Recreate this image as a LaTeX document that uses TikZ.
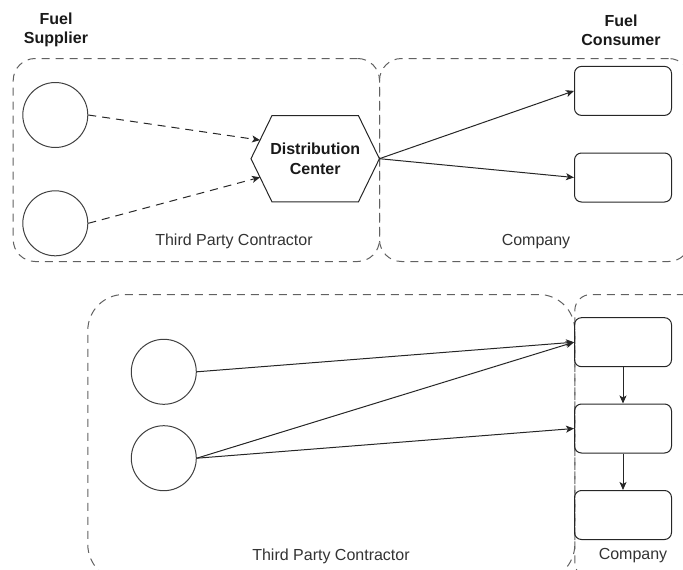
\documentclass[tikz,border=0pt]{standalone}
\usepackage{fontspec}
\setmainfont{Liberation Sans}
\usetikzlibrary{arrows.meta,calc}

\begin{document}
\begin{tikzpicture}[x=1pt,y=-1pt,
  container/.style={draw=black!62, line width=1pt, dash pattern=on 8pt off 6pt,
    inner sep=0pt, anchor=north west},
  station/.style={circle, draw=black!75, line width=1pt, minimum size=65pt, inner sep=0pt},
  consumer/.style={draw=black!85, line width=1pt, rounded corners=7pt,
    minimum width=97pt, minimum height=49pt, inner sep=0pt},
  lbl/.style={text=black!80, font=\fontsize{16}{19}\selectfont, inner sep=0pt},
  heading/.style={text=black!90, font=\fontsize{16}{19}\selectfont\bfseries,
    align=center, inner sep=0pt},
  flow/.style={draw=black!85, line width=1pt, -{Stealth[length=8pt,width=7pt,inset=2pt]}},
  dashflow/.style={flow, dash pattern=on 8pt off 6pt}
]
\useasboundingbox (0,0) rectangle (683,570);
\clip (0,0) rectangle (683,570);

% ---------- upper scenario ----------
\node[heading] (supplier) at (56,30) {Fuel\\Supplier};
\node[heading] (consumerhead) at (621,30.5) {Fuel\\Consumer};

\node[container, rounded corners=22pt, minimum width=366.3pt, minimum height=203pt]
  (tpcA) at (12.7,58) {};
\node[container, rounded corners=22pt, minimum width=311pt, minimum height=203pt]
  (compA) at (379,58) {};
\node[lbl] (tpcAlabel) at (234,241) {Third Party Contractor};
\node[lbl] (compAlabel) at (536,241.5) {Company};

\node[station] (sA1) at (55.3,115) {};
\node[station] (sA2) at (55.3,223.3) {};

% distribution centre: flat-topped hexagon
\node[minimum width=128pt, minimum height=86pt, inner sep=0pt, align=center,
      font=\fontsize{16}{20}\selectfont\bfseries, text=black!90]
  (hex) at (315.2,158.7) {Distribution\\Center};
\coordinate (hexnw) at ($(hex.north west)+(21,0)$);
\coordinate (hexne) at ($(hex.north east)+(-21,0)$);
\coordinate (hexsw) at ($(hex.south west)+(21,0)$);
\coordinate (hexse) at ($(hex.south east)+(-21,0)$);
\draw[draw=black!85, line width=1pt]
  (hex.west) -- (hexnw) -- (hexne) -- (hex.east) -- (hexse) -- (hexsw) -- cycle;
\coordinate (hexinA) at ($(hex.west)!0.43!(hexnw)$);
\coordinate (hexinB) at ($(hex.west)!0.43!(hexsw)$);

\node[consumer] (cA1) at (623,90.9) {};
\node[consumer] (cA2) at (623,177.5) {};

\draw[dashflow] (sA1.east) -- (hexinA);
\draw[dashflow] (sA2.east) -- (hexinB);
\draw[flow] (hex.east) -- (cA1.west);
\draw[flow] (hex.east) -- (cA2.west);

% ---------- lower scenario ----------
\node[container, rounded corners=36pt, minimum width=487pt, minimum height=286pt]
  (tpcB) at (87.3,294) {};
\node[container, rounded corners=16pt, minimum width=140pt, minimum height=284pt]
  (compB) at (574.3,294) {};
\node[lbl] (tpcBlabel) at (331,556) {Third Party Contractor};
\node[lbl] (compBlabel) at (633,556) {Company};

\node[station] (sB1) at (163.8,371.8) {};
\node[station] (sB2) at (163.8,458.2) {};

\node[consumer] (cB1) at (623,342.2) {};
\node[consumer] (cB2) at (623,428.5) {};
\node[consumer] (cB3) at (623,515) {};

\draw[flow] (sB1.east) -- (cB1.west);
\draw[flow] (sB2.east) -- (cB1.west);
\draw[flow] (sB2.east) -- (cB2.west);
\draw[flow] (cB1.south) -- (cB2.north);
\draw[flow] (cB2.south) -- (cB3.north);
\end{tikzpicture}
\end{document}
